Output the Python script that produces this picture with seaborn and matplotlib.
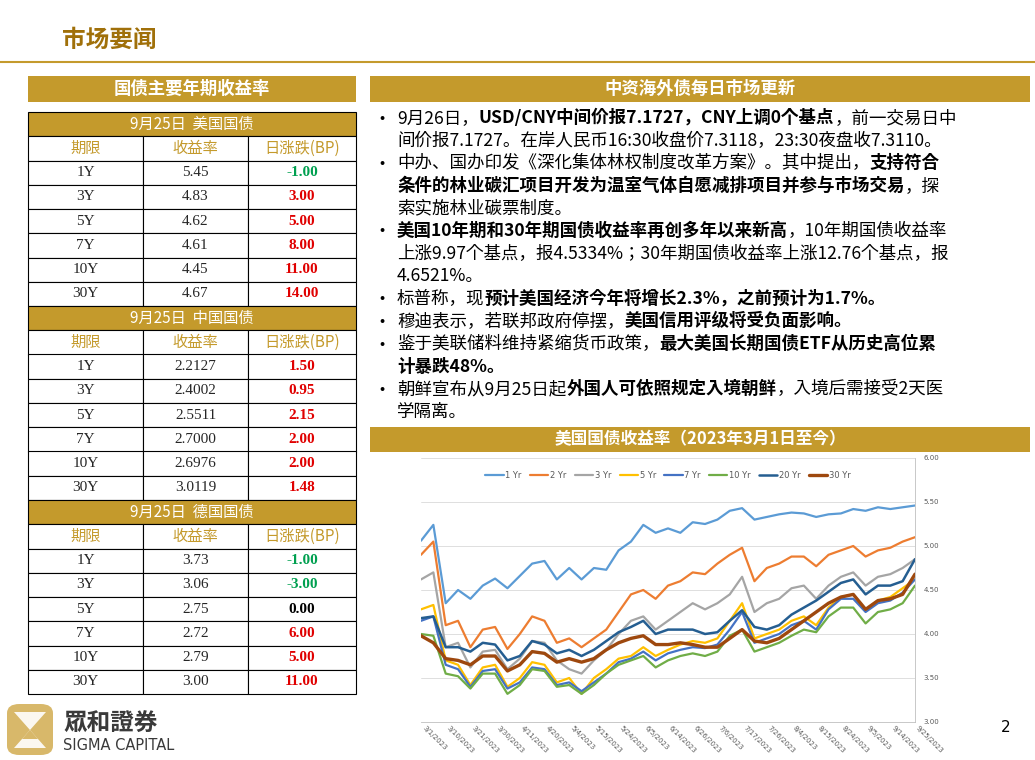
import numpy as np
import pandas as pd
import seaborn as sns
import matplotlib
matplotlib.use("Agg")
import matplotlib.pyplot as plt
from matplotlib.patches import Rectangle, FancyBboxPatch, Polygon
from matplotlib import font_manager

W, H = 1035, 760
_names = {f.name for f in font_manager.fontManager.ttflist}
CJK = [n for n in ["Noto Sans CJK SC", "Noto Sans CJK JP", "Noto Sans CJK TC", "Noto Sans CJK KR"] if n in _names] + ["DejaVu Sans"]
GOLD = "#C49A2C"
DARKGOLD = "#A0700A"

# ---------------- data ----------------
tenors = ["1Y", "3Y", "5Y", "7Y", "10Y", "30Y"]
us_yield = ["5.45", "4.83", "4.62", "4.61", "4.45", "4.67"]
us_chg = [-1.00, 3.00, 5.00, 8.00, 11.00, 14.00]
cn_yield = ["2.2127", "2.4002", "2.5511", "2.7000", "2.6976", "3.0119"]
cn_chg = [1.50, 0.95, 2.15, 2.00, 2.00, 1.48]
de_yield = ["3.73", "3.06", "2.75", "2.72", "2.79", "3.00"]
de_chg = [-1.00, -3.00, 0.00, 6.00, 5.00, 11.00]
sections = ["9月25日  美国国债", "9月25日  中国国债", "9月25日  德国国债"]

date_ticks = ["3/1/2023", "3/10/2023", "3/21/2023", "3/30/2023", "4/11/2023", "4/20/2023",
              "5/4/2023", "5/15/2023", "5/24/2023", "6/5/2023", "6/14/2023", "6/26/2023",
              "7/6/2023", "7/17/2023", "7/26/2023", "8/4/2023", "8/15/2023", "8/24/2023",
              "9/5/2023", "9/14/2023", "9/25/2023"]
y1 = [5.06,5.24,4.35,4.50,4.40,4.55,4.63,4.52,4.66,4.80,4.83,4.62,4.75,4.62,4.75,4.73,4.95,5.05,5.24,5.15,
      5.20,5.15,5.27,5.25,5.30,5.40,5.43,5.30,5.33,5.36,5.38,5.37,5.33,5.36,5.37,5.42,5.40,5.44,5.42,5.44,5.46]
y2 = [4.90,5.05,4.10,4.15,3.85,4.05,4.08,3.83,4.00,4.20,4.15,3.90,3.95,3.85,3.95,4.05,4.25,4.45,4.50,4.40,
      4.55,4.60,4.70,4.68,4.80,4.90,4.98,4.60,4.75,4.80,4.88,4.88,4.77,4.90,4.95,5.00,4.88,4.95,4.98,5.05,5.10]
y3 = [4.62,4.70,3.85,3.90,3.62,3.80,3.82,3.60,3.72,3.92,3.90,3.70,3.60,3.55,3.70,3.82,4.00,4.15,4.20,4.05,
      4.15,4.25,4.35,4.28,4.35,4.45,4.65,4.25,4.35,4.40,4.52,4.55,4.40,4.55,4.65,4.70,4.55,4.65,4.68,4.75,4.85]
y5 = [4.28,4.33,3.70,3.65,3.42,3.62,3.65,3.40,3.50,3.68,3.65,3.45,3.50,3.32,3.50,3.60,3.72,3.75,3.85,3.75,
      3.82,3.88,3.92,3.90,3.95,4.15,4.35,3.95,4.00,4.05,4.15,4.20,4.10,4.30,4.42,4.45,4.28,4.38,4.42,4.52,4.62]
y7 = [4.15,4.20,3.65,3.60,3.40,3.58,3.60,3.38,3.45,3.62,3.60,3.42,3.45,3.35,3.45,3.55,3.68,3.72,3.80,3.70,
      3.78,3.82,3.85,3.84,3.88,4.05,4.25,3.90,3.95,4.00,4.10,4.15,4.05,4.28,4.40,4.40,4.25,4.35,4.38,4.47,4.62]
y10 = [4.00,3.98,3.55,3.52,3.38,3.55,3.55,3.32,3.42,3.60,3.58,3.40,3.42,3.32,3.42,3.55,3.65,3.70,3.75,3.62,
       3.70,3.75,3.78,3.75,3.80,3.98,4.05,3.80,3.85,3.90,3.98,4.05,4.02,4.20,4.30,4.30,4.12,4.25,4.28,4.35,4.55]
y20 = [4.18,4.20,3.85,3.85,3.80,3.90,3.88,3.70,3.75,3.92,3.88,3.78,3.82,3.75,3.82,3.92,4.02,4.08,4.15,4.00,
       4.05,4.05,4.05,4.00,4.02,4.15,4.27,4.08,4.05,4.10,4.22,4.30,4.38,4.48,4.58,4.62,4.45,4.55,4.55,4.60,4.85]
y30 = [3.98,3.90,3.72,3.70,3.65,3.75,3.75,3.58,3.65,3.80,3.78,3.68,3.72,3.68,3.72,3.82,3.90,3.95,3.98,3.88,
       3.88,3.90,3.88,3.85,3.85,3.95,4.05,3.92,3.90,3.95,4.05,4.15,4.25,4.35,4.42,4.45,4.28,4.38,4.40,4.45,4.68]
series_names = ["1 Yr", "2 Yr", "3 Yr", "5 Yr", "7 Yr", "10 Yr", "20 Yr", "30 Yr"]
series_vals = [y1, y2, y3, y5, y7, y10, y20, y30]
series_colors = ["#5B9BD5", "#ED7D31", "#A5A5A5", "#FFC000", "#4472C4", "#70AD47", "#255E91", "#9E480E"]
series_lw = [1.6, 1.6, 1.6, 1.6, 1.6, 1.6, 1.8, 2.4]

bullets = [
    [("9月26日，", False), ("USD/CNY中间价报7.1727，CNY上调0个基点", True), ("，前一交易日中", False)],
    [("间价报7.1727。在岸人民币16:30收盘价7.3118，23:30夜盘收7.3110。", False)],
    [("中办、国办印发《深化集体林权制度改革方案》。其中提出，", False), ("支持符合", True)],
    [("条件的林业碳汇项目开发为温室气体自愿减排项目并参与市场交易", True), ("，探", False)],
    [("索实施林业碳票制度。", False)],
    [("美国10年期和30年期国债收益率再创多年以来新高", True), ("，10年期国债收益率", False)],
    [("上涨9.97个基点，报4.5334%；30年期国债收益率上涨12.76个基点，报", False)],
    [("4.6521%。", False)],
    [("标普称，现", False), ("预计美国经济今年将增长2.3%，之前预计为1.7%。", True)],
    [("穆迪表示，若联邦政府停摆，", False), ("美国信用评级将受负面影响。", True)],
    [("鉴于美联储料维持紧缩货币政策，", False), ("最大美国长期国债ETF从历史高位累", True)],
    [("计暴跌48%。", True)],
    [("朝鲜宣布从9月25日起", False), ("外国人可依照规定入境朝鲜", True), ("，入境后需接受2天医", False)],
    [("学隔离。", False)],
]
bullet_lines = [0, 2, 5, 8, 9, 10, 12]

# ---------------- figure ----------------
sns.set_theme(style="white")
fig = plt.figure(figsize=(W / 100, H / 100), dpi=100)
fig.patch.set_facecolor("white")

def fx(x): return x / W
def fy(y): return 1 - y / H

def rect(x0, y0, x1, y1, fc="none", ec="none", lw=1.0, z=1):
    fig.add_artist(Rectangle((fx(x0), fy(y1)), fx(x1 - x0), (y1 - y0) / H,
                             transform=fig.transFigure, fc=fc, ec=ec, lw=lw, zorder=z))

def text(x, y, s, **kw):
    kw.setdefault("family", CJK)
    return fig.text(fx(x), fy(y), s, **kw)

# title
text(62, 40, "市场要闻", fontsize=17, color=DARKGOLD, weight="bold", va="center")
fig.add_artist(plt.Line2D([0, 1], [fy(62), fy(62)], transform=fig.transFigure, color=GOLD, lw=1.5))

# headers
rect(28, 76, 356, 102, fc=GOLD)
text(192, 89, "国债主要年期收益率", color="white", fontsize=12.5, weight="bold", ha="center", va="center")
rect(370, 76, 1030, 102, fc=GOLD)
text(700, 89, "中资海外债每日市场更新", color="white", fontsize=12.5, weight="bold", ha="center", va="center")
rect(370, 427, 1030, 452, fc=GOLD)
text(700, 439.5, "美国国债收益率（2023年3月1日至今）", color="white", fontsize=12, weight="bold", ha="center", va="center")

# table
top, bot = 112, 694
rh = (bot - top) / 24
cols = [28, 143, 248, 356]
blocks = [(us_yield, us_chg), (cn_yield, cn_chg), (de_yield, de_chg)]
r = 0
for si, (yl, ch) in enumerate(blocks):
    y0 = top + r * rh
    rect(28, y0, 356, y0 + rh, fc=GOLD, ec="black", lw=0.8)
    text(192, y0 + rh / 2, sections[si], color="white", fontsize=11, ha="center", va="center")
    r += 1
    y0 = top + r * rh
    for ci, lab in enumerate(["期限", "收益率", "日涨跌(BP)"]):
        rect(cols[ci], y0, cols[ci + 1], y0 + rh, fc="white", ec="black", lw=0.8)
        text((cols[ci] + cols[ci + 1]) / 2, y0 + rh / 2, lab, color=GOLD, fontsize=11, ha="center", va="center")
    r += 1
    for k in range(6):
        y0 = top + r * rh
        c = ch[k]
        col = "#E00000" if c > 0 else ("#00A050" if c < 0 else "black")
        vals = [tenors[k], yl[k], f"{c:.2f}"]
        for ci in range(3):
            rect(cols[ci], y0, cols[ci + 1], y0 + rh, fc="white", ec="black", lw=0.8)
            kw = dict(fontsize=11, ha="center", va="center", family="Liberation Serif")
            if ci == 2:
                kw.update(color=col, weight="bold")
            text((cols[ci] + cols[ci + 1]) / 2, y0 + rh / 2, vals[ci], **kw)
        r += 1

# bullets with mixed bold runs
fig.canvas.draw()
renderer = fig.canvas.get_renderer()
for i, line in enumerate(bullets):
    y = 118 + i * 22.6
    if i in bullet_lines:
        text(382, y, "•", fontsize=11, va="center", ha="center", color="black")
    x = 397
    for s, b in line:
        t = text(x, y, s, fontsize=12.6, va="center", color="black", weight="bold" if b else "normal")
        bb = t.get_window_extent(renderer)
        x += bb.width

# chart
ax = fig.add_axes([fx(421), fy(722), fx(915 - 421), (722 - 458) / H])
rows = []
for name, vals in zip(series_names, series_vals):
    for j, v in enumerate(vals):
        rows.append({"idx": j, "yield": v, "series": name})
df = pd.DataFrame(rows)
for name, col, lw in zip(series_names, series_colors, series_lw):
    sns.lineplot(data=df[df.series == name], x="idx", y="yield", color=col, lw=lw, ax=ax, label=name)
n = len(y1) - 1
ax.set_xlim(0, n)
ax.set_ylim(3.0, 6.0)
ax.set_yticks([3.0, 3.5, 4.0, 4.5, 5.0, 5.5, 6.0])
ax.set_yticklabels([f"{v:.2f}" for v in [3.0, 3.5, 4.0, 4.5, 5.0, 5.5, 6.0]])
ax.yaxis.tick_right()
ax.tick_params(axis="y", labelsize=5, colors="#595959", length=0, pad=6)
ax.set_xticks(np.linspace(0, n, len(date_ticks)))
ax.set_xticklabels(date_ticks, rotation=-45, ha="left", fontsize=5, color="#595959")
ax.tick_params(axis="x", length=0, pad=2)
ax.grid(axis="y", color="#D9D9D9", lw=0.6)
for sp in ["top", "left"]:
    ax.spines[sp].set_visible(False)
ax.spines["bottom"].set_color("#BFBFBF")
ax.spines["right"].set_color("#BFBFBF")
ax.spines["right"].set_linewidth(0.6)
ax.spines["bottom"].set_linewidth(0.6)
ax.set_xlabel("")
ax.set_ylabel("")
ax.legend(loc="upper center", bbox_to_anchor=(0.5, 0.98), ncol=8, frameon=False, fontsize=6,
          handlelength=2.2, columnspacing=1.0, handletextpad=0.2, labelcolor="#595959")

# logo
fig.add_artist(FancyBboxPatch((fx(7), fy(755)), fx(46), 51 / H, boxstyle="round,pad=0,rounding_size=0.012",
                              transform=fig.transFigure, fc="#D8B86A", ec="none"))
for pts in [[(14, 712), (46, 712), (30, 730)], [(30, 730), (14, 748), (46, 748)]]:
    fig.add_artist(Polygon([(fx(a), fy(b)) for a, b in pts], closed=True, transform=fig.transFigure,
                           fc="white", ec="none", alpha=0.9))
fig.add_artist(Polygon([(fx(a), fy(b)) for a, b in [(22, 739), (38, 739), (30, 730)]], closed=True,
                       transform=fig.transFigure, fc="#D8B86A", ec="none"))
text(63, 724, "眾和證券", fontsize=17, weight="bold", color="#3A3A3A", va="center")
text(63, 746, "SIGMA CAPITAL", fontsize=10.5, color="#3A3A3A", va="center", family="DejaVu Sans")
text(1006, 728, "2", fontsize=11, color="black", va="center", ha="center", family="DejaVu Sans")

fig.savefig("out.png", dpi=100)
